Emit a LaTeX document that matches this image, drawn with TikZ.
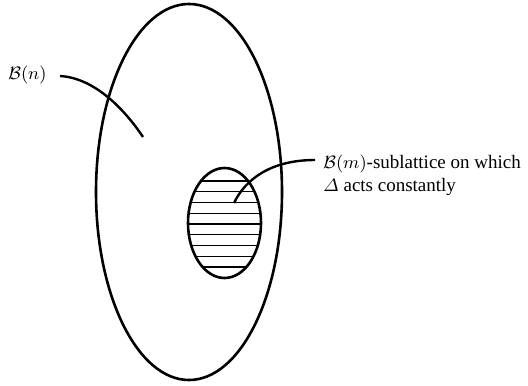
\documentclass[tikz,border=0pt]{standalone}
\usepackage{amsmath}
\usepackage{fontspec}
\setmainfont{Liberation Serif}
\usetikzlibrary{shapes.geometric}
\begin{document}
\begin{tikzpicture}[x=0.5pt,y=-0.5pt,
  outline/.style={line width=1.3pt},
  hatch/.style={line width=0.7pt},
  leader/.style={line width=1.2pt},
  lbl/.style={inner sep=0pt, font=\fontsize{9.5}{11.3}\selectfont}]
\useasboundingbox (0,0) rectangle (528,385);
\node[outline, draw, ellipse, minimum width=93pt, minimum height=188pt, inner sep=0pt] (big) at (189,192) {};
\begin{scope}
  \clip (224.5,223) ellipse [x radius=36.5, y radius=55];
  \foreach \yy in {181,191.75,202.5,213.25,224,234.75,245.5,256.25,267} {
    \draw[hatch] (180,\yy) -- (270,\yy);
  }
\end{scope}
\node[outline, draw, ellipse, minimum width=36.5pt, minimum height=55pt, inner sep=0pt] (sub) at (224.5,223) {};
\coordinate (small) at (234,203);
\coordinate (inner) at (143,137);
\node[lbl, anchor=base west] (bn) at (8,79) {$\mathcal{B}(n)$};
\node[lbl, anchor=base west, align=left] (bm) at (323,191) {$\mathcal{B}(m)$-sublattice on which\\ $\varDelta$ acts constantly};
\coordinate (bnend) at (60,76);
\coordinate (bmend) at (315,160);
\draw[leader] (bnend) .. controls (95,78) and (125,110) .. (inner);
\draw[leader] (bmend) .. controls (270,160) and (245,180) .. (small);
\end{tikzpicture}
\end{document}
